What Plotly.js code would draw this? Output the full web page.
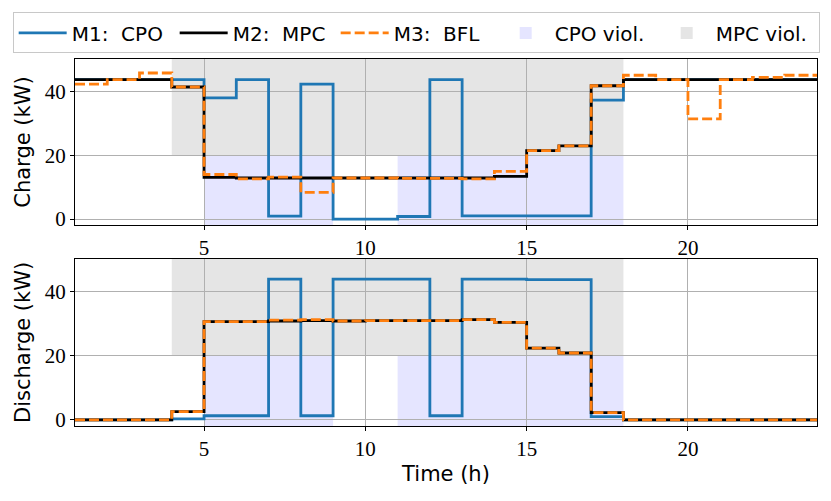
<!DOCTYPE html>
<html>
<head>
<meta charset="utf-8">
<script src="https://cdn.plot.ly/plotly-3.0.1.min.js"></script>
<style>
  html, body { margin: 0; padding: 0; background: #fff; }
  #chart { width: 831px; height: 501px; }
</style>
</head>
<body>
<div id="chart"></div>
<script>
// Hours (steps-post: each value holds until the next hour)
const hours = [1, 2, 3, 4, 5, 6, 7, 8, 9, 10, 11, 12, 13, 14, 15, 16, 17, 18, 19, 20, 21, 22, 23, 24];

// Charge (kW)
const chargeCPO = [43.8, 43.8, 43.8, 43.8, 38.1, 43.8, 0.9, 42.4, 0.0, 0.0, 0.8, 43.8, 1.0, 1.0, 1.0, 1.0, 37.4, 43.8, 43.8, 43.8, 43.8, 43.8, 43.8, 43.8];
const chargeMPC = [43.8, 43.8, 43.8, 41.5, 13.1, 12.9, 12.9, 12.9, 12.9, 12.9, 12.9, 12.9, 12.9, 13.4, 21.5, 23.0, 41.9, 43.8, 43.8, 43.8, 43.8, 43.8, 43.8, 43.8];
const chargeBFL = [42.4, 43.8, 45.9, 41.5, 14.0, 12.6, 13.2, 8.4, 12.9, 12.9, 12.8, 12.8, 12.6, 15.0, 21.5, 23.0, 41.9, 45.2, 43.8, 31.5, 43.8, 44.5, 45.2, 45.2];

// Discharge (kW)
const dischargeCPO = [0.0, 0.0, 0.0, 0.3, 1.3, 1.3, 44.0, 1.3, 44.0, 44.0, 44.0, 1.3, 44.0, 44.0, 43.8, 43.8, 1.0, 0.0, 0.0, 0.0, 0.0, 0.0, 0.0, 0.0];
const dischargeMPC = [0.0, 0.0, 0.0, 2.6, 30.7, 30.7, 30.9, 31.0, 30.9, 31.0, 31.0, 31.0, 31.3, 30.5, 22.4, 20.9, 2.3, 0.0, 0.0, 0.0, 0.0, 0.0, 0.0, 0.0];
const dischargeBFL = [0.0, 0.0, 0.0, 2.6, 30.7, 30.7, 31.2, 31.3, 30.9, 31.0, 31.0, 31.0, 31.3, 30.5, 22.4, 20.9, 2.3, 0.0, 0.0, 0.0, 0.0, 0.0, 0.0, 0.0];

// Violation windows [start, end] in hours, split at the power level
const violLevel = 20;
const cpoViol = [[5, 9], [11, 18]];
const mpcViol = [[4, 18]];

const seriesNames = ['M1:\u00a0 CPO', 'M2:\u00a0 MPC', 'M3:\u00a0 BFL'];
const yRange = [-1.9, 50.3];

const lineStyles = [
    { color: '#1f77b4', width: 2.8 },
    { color: '#000000', width: 2.8 },
    { color: '#ff7f0e', width: 2.8, dash: '10px,4px' },
];

const makeStep = (y, i, xa, ya, legend) => ({
    type: 'scatter',
    mode: 'lines',
    x: hours,
    y: y,
    name: seriesNames[i],
    line: Object.assign({ shape: 'hv' }, lineStyles[i]),
    xaxis: xa,
    yaxis: ya,
    showlegend: legend,
    legendgroup: seriesNames[i],
    hoverinfo: 'skip',
});

const data = [
    makeStep(chargeCPO, 0, 'x', 'y', true),
    makeStep(chargeMPC, 1, 'x', 'y', true),
    makeStep(chargeBFL, 2, 'x', 'y', true),
    makeStep(dischargeCPO, 0, 'x2', 'y2', false),
    makeStep(dischargeMPC, 1, 'x2', 'y2', false),
    makeStep(dischargeBFL, 2, 'x2', 'y2', false),
];

// Shaded violation areas (below the grid, like matplotlib's axvspan)
const shapes = [];
[['x', 'y'], ['x2', 'y2']].forEach(([xa, ya], k) => {
    cpoViol.forEach((w, j) => shapes.push({
        type: 'rect', layer: 'below', xref: xa, yref: ya,
        x0: w[0], x1: w[1], y0: yRange[0], y1: violLevel,
        fillcolor: '#e5e5ff', line: { width: 0 },
        name: 'CPO viol.', showlegend: k === 0 && j === 0, legendgroup: 'cpo',
    }));
    mpcViol.forEach((w, j) => shapes.push({
        type: 'rect', layer: 'below', xref: xa, yref: ya,
        x0: w[0], x1: w[1], y0: violLevel, y1: yRange[1],
        fillcolor: '#e5e5e5', line: { width: 0 },
        name: 'MPC viol.', showlegend: k === 0 && j === 0, legendgroup: 'mpc',
    }));
});

const tickFont = { family: 'Liberation Serif, DejaVu Serif, serif', size: 21, color: '#000' };
const titleFont = { family: 'DejaVu Sans, sans-serif', size: 21, color: '#000' };

const xBase = {
    range: [1, 24],
    tickvals: [5, 10, 15, 20],
    ticks: 'outside', ticklen: 4, tickwidth: 1, tickcolor: '#000',
    showline: true, linecolor: '#000', linewidth: 1, mirror: true,
    showgrid: true, gridcolor: '#b0b0b0', gridwidth: 1,
    zeroline: false,
    tickfont: tickFont,
};
const yBase = {
    range: yRange,
    tickvals: [0, 20, 40],
    ticks: 'outside', ticklen: 4, tickwidth: 1, tickcolor: '#000',
    showline: true, linecolor: '#000', linewidth: 1, mirror: true,
    showgrid: true, gridcolor: '#b0b0b0', gridwidth: 1,
    zeroline: false,
    tickfont: tickFont,
};

const layout = {
    width: 831,
    height: 501,
    margin: { l: 75, r: 14, t: 57, b: 75 },
    paper_bgcolor: '#fff',
    plot_bgcolor: '#fff',
    showlegend: true,
    legend: {
        orientation: 'h',
        x: -0.084, xanchor: 'left',
        y: 1.127, yanchor: 'top',
        bgcolor: '#fff',
        bordercolor: '#c8c8c8',
        borderwidth: 1,
        itemwidth: 48,
        entrywidth: 98,
        entrywidthmode: 'pixels',
        font: { family: 'DejaVu Sans, sans-serif', size: 20, color: '#000' },
        traceorder: 'normal',
    },
    xaxis: Object.assign({}, xBase, { domain: [0, 1], anchor: 'y' }),
    yaxis: Object.assign({}, yBase, { domain: [0.5474, 1], anchor: 'x',
        title: { text: 'Charge (kW)', font: titleFont, standoff: 8 } }),
    xaxis2: Object.assign({}, xBase, { domain: [0, 1], anchor: 'y2',
        title: { text: 'Time (h)', font: titleFont, standoff: 6 } }),
    yaxis2: Object.assign({}, yBase, { domain: [0, 0.4553], anchor: 'x2',
        title: { text: 'Discharge (kW)', font: titleFont, standoff: 8 } }),
    shapes: shapes,
};

Plotly.newPlot('chart', data, layout, { displayModeBar: false, staticPlot: true });
</script>
</body>
</html>
